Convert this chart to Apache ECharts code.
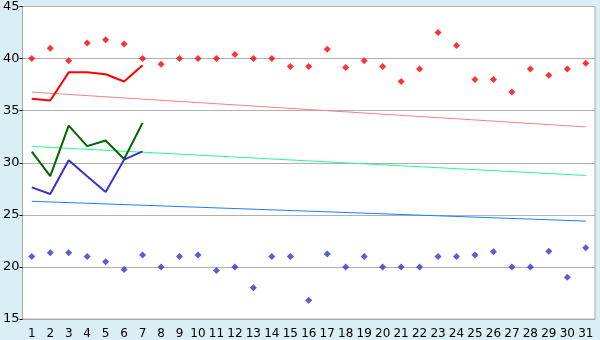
<!DOCTYPE html>
<html>
<head>
<meta charset="utf-8">
<style>
html,body{margin:0;padding:0;background:#d9eef5;}
#c{width:600px;height:340px;}
</style>
<script src="https://cdn.jsdelivr.net/npm/echarts@6/dist/echarts.min.js"></script>
</head>
<body>
<div id="c"></div>
<script>
const days = ['1','2','3','4','5','6','7','8','9','10','11','12','13','14','15','16','17','18','19','20','21','22','23','24','25','26','27','28','29','30','31'];
const yTicks = [15,20,25,30,35,40,45];
const redPoints = [40.0,41.0,39.8,41.5,41.8,41.4,40.0,39.45,40.0,40.0,40.0,40.4,40.0,40.0,39.25,39.25,40.9,39.15,39.8,39.25,37.8,39.0,42.5,41.25,38.0,38.0,36.8,39.0,38.4,39.0,39.55];
const bluePoints = [21.0,21.35,21.35,21.0,20.5,19.75,21.15,20.0,21.0,21.15,19.65,20.0,18.0,21.0,21.0,16.8,21.25,20.0,21.0,20.0,20.0,20.0,21.0,21.0,21.15,21.45,20.0,20.0,21.5,19.0,21.85];
const redLine = [36.14,35.98,38.68,38.68,38.5,37.8,39.35];
const greenLine = [31.07,28.71,33.57,31.6,32.14,30.36,33.83];
const blueLine = [27.64,27.0,30.24,28.7,27.19,30.3,31.1];
const trendRed = [['1',36.78],['31',33.44]];
const trendGreen = [['1',31.57],['31',28.78]];
const trendBlue = [['1',26.3],['31',24.4]];

const chart = echarts.init(document.getElementById('c'), null, {renderer:'canvas'});
const font = 'DejaVu Sans';
chart.setOption({
  animation:false,
  backgroundColor:'#d9eef5',
  grid:{left:20,right:5,top:5,bottom:20,show:true,backgroundColor:'#ffffff',borderColor:'#aaaaaa',borderWidth:1},
  xAxis:{type:'category',data:days,boundaryGap:true,
    axisLine:{lineStyle:{color:'#aaaaaa'}},
    axisTick:{alignWithLabel:true,length:5,lineStyle:{color:'#000'}},
    axisLabel:{color:'#000',fontFamily:font,fontSize:12,margin:9,interval:0},
    splitLine:{show:false}},
  yAxis:{type:'value',min:yTicks[0],max:yTicks[yTicks.length-1],interval:5,
    axisLine:{show:true,lineStyle:{color:'#aaaaaa'}},
    axisTick:{show:true,length:3,lineStyle:{color:'#000'}},
    axisLabel:{color:'#000',fontFamily:font,fontSize:13,margin:3},
    splitLine:{lineStyle:{color:'#b0b0b0'}}},
  series:[
    {type:'line',data:trendRed,symbol:'none',lineStyle:{color:'#ff8080',width:1},z:2},
    {type:'line',data:trendGreen,symbol:'none',lineStyle:{color:'#22ff88',width:1},z:2},
    {type:'line',data:trendBlue,symbol:'none',lineStyle:{color:'#1a80ff',width:1},z:2},
    {type:'line',data:redLine,symbol:'none',lineStyle:{color:'#ff0000',width:2},z:3},
    {type:'line',data:greenLine,symbol:'none',lineStyle:{color:'#006600',width:2},z:3},
    {type:'line',data:blueLine,symbol:'none',lineStyle:{color:'#3333cc',width:2},z:3},
    {type:'scatter',data:redPoints,symbol:'diamond',symbolSize:7,itemStyle:{color:'#ff0000'},z:4},
    {type:'scatter',data:bluePoints,symbol:'diamond',symbolSize:7,itemStyle:{color:'#3333cc'},z:4}
  ]
});
</script>
</body>
</html>
